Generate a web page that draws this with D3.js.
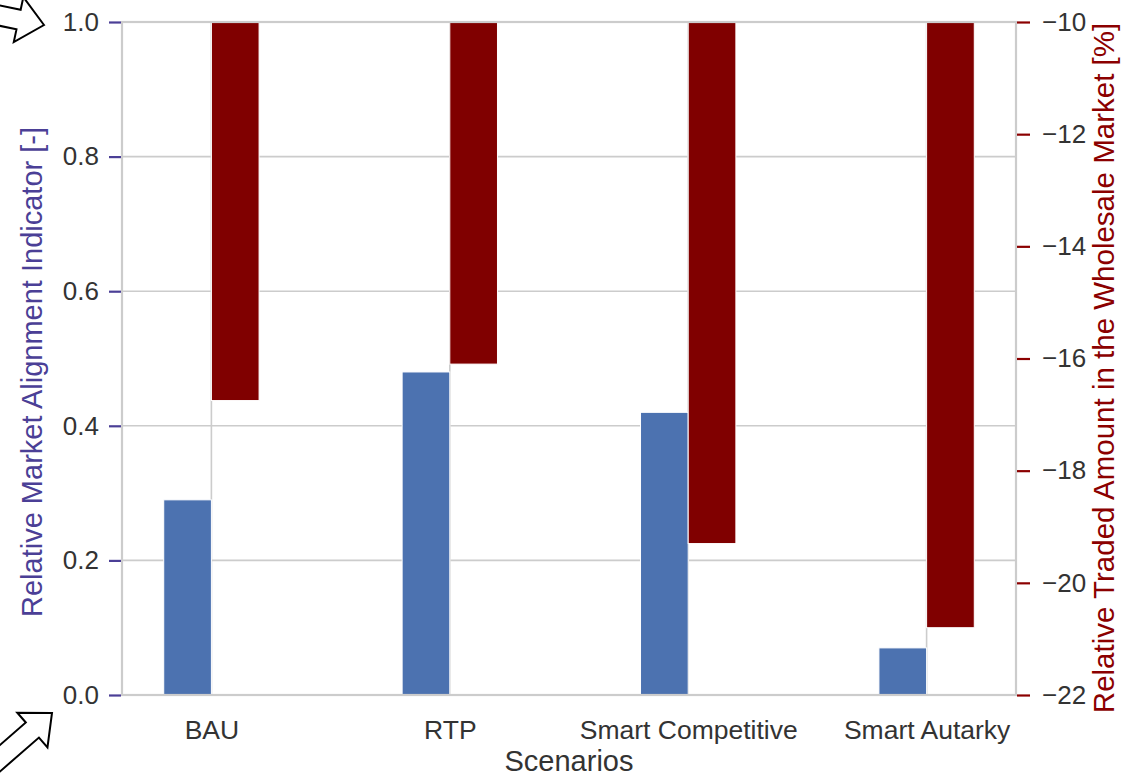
<!DOCTYPE html>
<html>
<head>
<meta charset="utf-8">
<script src="https://cdn.jsdelivr.net/npm/d3@7"></script>
<style>
  html, body { margin: 0; padding: 0; background: #fff; }
  svg { display: block; font-family: "Liberation Sans", Arial, sans-serif; }
</style>
</head>
<body>
<svg id="chart" width="1121" height="777"></svg>
<script>
// ---- data ----
const categories = ["BAU", "RTP", "Smart Competitive", "Smart Autarky"];
const alignmentValues = [0.29, 0.48, 0.42, 0.07];          // left axis, blue bars
const tradedValues = [-16.75, -16.1, -19.3, -20.8];         // right axis, red bars (%)
const leftTicks = [0.0, 0.2, 0.4, 0.6, 0.8, 1.0];
const rightTicks = [-22, -20, -18, -16, -14, -12, -10];

// ---- layout ----
const W = 1121, H = 777;
const m = { left: 122, right: 1016, top: 22, bottom: 695 };
const barW = 0.2;

const svg = d3.select("#chart");

const x = d3.scaleLinear().domain([-0.375, categories.length - 1 + 0.375]).range([m.left, m.right]);
const yL = d3.scaleLinear().domain([0, 1]).range([m.bottom, m.top]);
const yR = d3.scaleLinear().domain([-22, -10]).range([m.bottom, m.top]);

const gridColor = "#cccccc";
const textColor = "#333333";
const leftColor = "#4b3f96";
const rightColor = "#8b0000";
const blue = "#4c72b0";
const red = "#800000";

// gridlines
const grid = svg.append("g");
grid.selectAll("line.h").data(leftTicks).join("line")
  .attr("x1", m.left).attr("x2", m.right)
  .attr("y1", d => yL(d)).attr("y2", d => yL(d))
  .attr("stroke", gridColor).attr("stroke-width", 1.6);
grid.selectAll("line.v").data(categories).join("line")
  .attr("x1", (d, i) => x(i)).attr("x2", (d, i) => x(i))
  .attr("y1", m.top).attr("y2", m.bottom)
  .attr("stroke", gridColor).attr("stroke-width", 1.6);

// blue bars (left axis)
svg.append("g").selectAll("rect").data(alignmentValues).join("rect")
  .attr("x", (d, i) => x(i - barW))
  .attr("width", x(barW) - x(0))
  .attr("y", d => yL(d))
  .attr("height", d => yL(0) - yL(d))
  .attr("fill", blue)
  .attr("stroke", "#ffffff").attr("stroke-width", 1);

// red bars (right axis), hanging from the top of the axis
svg.append("g").selectAll("rect").data(tradedValues).join("rect")
  .attr("x", (d, i) => x(i))
  .attr("width", x(barW) - x(0))
  .attr("y", yR(-10))
  .attr("height", d => yR(d) - yR(-10))
  .attr("fill", red)
  .attr("stroke", "#ffffff").attr("stroke-width", 1);

// frame
svg.append("rect")
  .attr("x", m.left).attr("y", m.top)
  .attr("width", m.right - m.left).attr("height", m.bottom - m.top)
  .attr("fill", "none").attr("stroke", gridColor).attr("stroke-width", 2.2);

const ff = "'Liberation Sans', Arial, sans-serif";

// left axis
const fmtL = d3.format(".1f");
const axL = d3.axisLeft(yL).tickValues(leftTicks).tickFormat(fmtL).tickSize(12).tickPadding(10);
const gL = svg.append("g").attr("transform", `translate(${m.left - 1},0)`).call(axL);
gL.select(".domain").remove();
gL.selectAll(".tick line").attr("stroke", leftColor).attr("stroke-width", 2.2);
gL.selectAll(".tick text").attr("fill", textColor).style("font-size", "26px").style("font-family", ff);

// right axis
const fmtR = d => d3.format("d")(d).replace("-", "\u2212");
const axR = d3.axisRight(yR).tickValues(rightTicks).tickFormat(fmtR).tickSize(13).tickPadding(12);
const gR = svg.append("g").attr("transform", `translate(${m.right + 1},0)`).call(axR);
gR.select(".domain").remove();
gR.selectAll(".tick line").attr("stroke", rightColor).attr("stroke-width", 2.2);
gR.selectAll(".tick text").attr("fill", textColor).style("font-size", "26px").style("font-family", ff);

// bottom axis
const axB = d3.axisBottom(x).tickValues(d3.range(categories.length)).tickFormat(i => categories[i]).tickSize(0).tickPadding(25);
const gB = svg.append("g").attr("transform", `translate(0,${m.bottom})`).call(axB);
gB.select(".domain").remove();
gB.selectAll(".tick text").attr("fill", textColor).style("font-size", "26.5px").style("font-family", ff);

// axis titles
svg.append("text")
  .attr("transform", `translate(${42},${372}) rotate(-90)`)
  .attr("text-anchor", "middle")
  .attr("fill", leftColor).style("font-size", "29px")
  .text("Relative Market Alignment Indicator [-]");
svg.append("text")
  .attr("transform", `translate(${1114},${368}) rotate(-90)`)
  .attr("text-anchor", "middle")
  .attr("fill", rightColor).style("font-size", "29.5px")
  .text("Relative Traded Amount in the Wholesale Market [%]");
svg.append("text")
  .attr("x", (m.left + m.right) / 2).attr("y", 771)
  .attr("text-anchor", "middle")
  .attr("fill", textColor).style("font-size", "29px")
  .text("Scenarios");

// outline block arrows (annotations)
function blockArrow(tipX, tipY, angleDeg, len, shaftW, headW, headL) {
  const pts = [
    [0, 0], [-headL, -headW / 2], [-headL, -shaftW / 2], [-len, -shaftW / 2],
    [-len, shaftW / 2], [-headL, shaftW / 2], [-headL, headW / 2]
  ];
  svg.append("path")
    .attr("d", d3.line()(pts) + "Z")
    .attr("transform", `translate(${tipX},${tipY}) rotate(${angleDeg})`)
    .attr("fill", "#ffffff").attr("stroke", "#000000").attr("stroke-width", 2)
    .attr("stroke-linejoin", "miter");
}
blockArrow(44, 25, 12, 90, 20, 46, 26);
blockArrow(52, 713, -41, 90, 20, 46, 26);
</script>
</body>
</html>
